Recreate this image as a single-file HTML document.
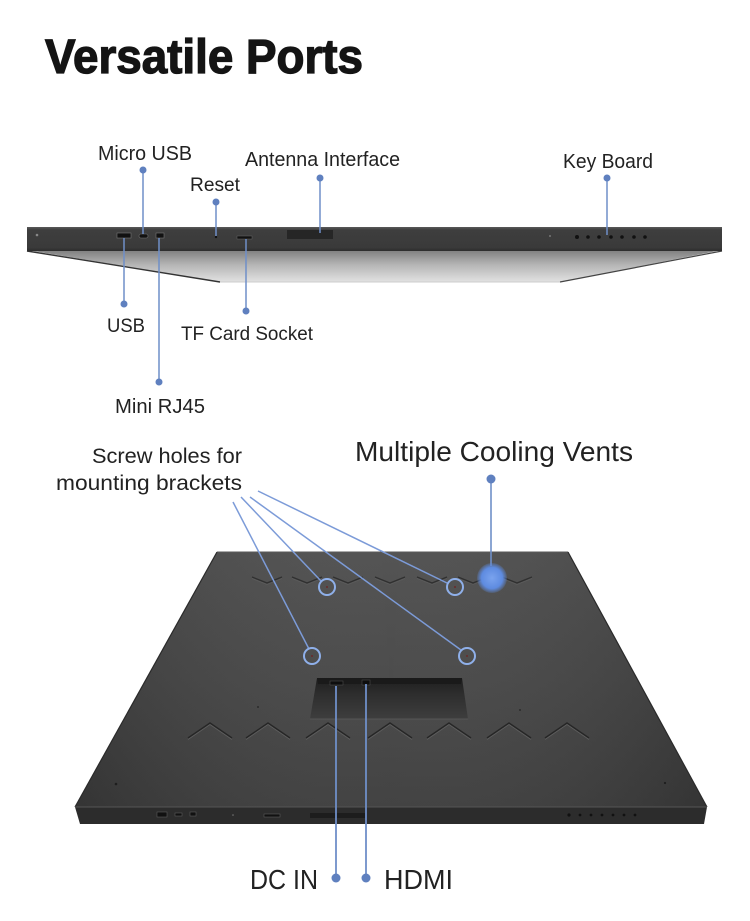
<!DOCTYPE html>
<html><head><meta charset="utf-8"><style>
html,body{margin:0;padding:0;background:#fff;}
svg{display:block;}
text{font-family:"Liberation Sans",Arial,sans-serif;fill:#222;}
</style></head><body>
<svg width="750" height="921" viewBox="0 0 750 921" xmlns="http://www.w3.org/2000/svg">
<defs>
<linearGradient id="under" x1="0" y1="0" x2="0" y2="1">
<stop offset="0" stop-color="#7e7e7e"/><stop offset="0.45" stop-color="#b4b4b4"/><stop offset="1" stop-color="#e2e2e2"/>
</linearGradient>
<linearGradient id="bar" x1="0" y1="0" x2="0" y2="1">
<stop offset="0" stop-color="#5a5a5a"/><stop offset="0.12" stop-color="#3e3e3e"/><stop offset="0.85" stop-color="#3a3a3a"/><stop offset="1" stop-color="#2c2c2c"/>
</linearGradient>
<linearGradient id="face" x1="0" y1="0" x2="0" y2="1">
<stop offset="0" stop-color="#4d4d4d"/><stop offset="0.5" stop-color="#454545"/><stop offset="1" stop-color="#3b3b3b"/>
</linearGradient>
<linearGradient id="faceH" x1="0" y1="0" x2="1" y2="0">
<stop offset="0" stop-color="#000" stop-opacity="0.12"/><stop offset="0.5" stop-color="#fff" stop-opacity="0.04"/><stop offset="1" stop-color="#000" stop-opacity="0.12"/>
</linearGradient>
<linearGradient id="rec" x1="0" y1="0" x2="0" y2="1">
<stop offset="0" stop-color="#1e1e1e"/><stop offset="0.35" stop-color="#2c2c2c"/><stop offset="1" stop-color="#3e3e3e"/>
</linearGradient>
<radialGradient id="vent" cx="0.5" cy="0.5" r="0.5">
<stop offset="0" stop-color="#7aa3ee"/><stop offset="0.7" stop-color="#5e8be0"/><stop offset="1" stop-color="#5e8be0" stop-opacity="0.2"/>
</radialGradient>
</defs>

<!-- Title -->
<text x="45" y="73" font-size="48" font-weight="bold" textLength="318" lengthAdjust="spacingAndGlyphs" style="fill:#141414;stroke:#141414;stroke-width:1.3">Versatile Ports</text>

<!-- Top monitor (edge view) -->
<polygon points="27,250 722,250 560,282 220,282" fill="url(#under)"/>
<line x1="27" y1="251" x2="220" y2="282" stroke="#333" stroke-width="1.4"/>
<line x1="722" y1="251" x2="560" y2="282" stroke="#444" stroke-width="1.2"/>
<line x1="220" y1="282" x2="560" y2="282" stroke="#ccc" stroke-width="1"/>
<rect x="27" y="227" width="695" height="24" fill="url(#bar)"/>
<!-- ports on bar -->
<circle cx="37" cy="235" r="1.3" fill="#888"/>
<rect x="117" y="233" width="14" height="5" fill="#111" stroke="#777" stroke-width="0.6"/>
<rect x="139" y="234" width="9" height="4" rx="2" fill="#111" stroke="#777" stroke-width="0.6"/>
<rect x="156" y="233" width="8" height="5" fill="#111" stroke="#777" stroke-width="0.6"/>
<circle cx="216" cy="237" r="1.2" fill="#111"/>
<rect x="237" y="236" width="15" height="3" fill="#111" stroke="#666" stroke-width="0.5"/>
<rect x="287" y="230" width="46" height="9" fill="#262626"/>
<circle cx="550" cy="236" r="1" fill="#777"/>
<g fill="#111">
<circle cx="577" cy="237" r="2"/><circle cx="588" cy="237" r="1.8"/><circle cx="599" cy="237" r="1.8"/><circle cx="611" cy="237" r="1.8"/><circle cx="622" cy="237" r="1.8"/><circle cx="634" cy="237" r="1.8"/><circle cx="645" cy="237" r="1.8"/>
</g>

<!-- Top labels connectors -->
<g stroke="#6f8fc8" stroke-width="1.5">
<line x1="143" y1="170" x2="143" y2="234"/>
<line x1="216" y1="202" x2="216" y2="236"/>
<line x1="320" y1="178" x2="320" y2="233"/>
<line x1="607" y1="178" x2="607" y2="235"/>
<line x1="124" y1="238" x2="124" y2="304"/>
<line x1="159" y1="238" x2="159" y2="382"/>
<line x1="246" y1="239" x2="246" y2="311"/>
</g>
<g fill="#5f80bf">
<circle cx="143" cy="170" r="3.5"/><circle cx="216" cy="202" r="3.5"/><circle cx="320" cy="178" r="3.5"/><circle cx="607" cy="178" r="3.5"/>
<circle cx="124" cy="304" r="3.5"/><circle cx="159" cy="382" r="3.5"/><circle cx="246" cy="311" r="3.5"/>
</g>
<text x="98" y="160" font-size="20" textLength="94" lengthAdjust="spacingAndGlyphs">Micro USB</text>
<text x="190" y="191" font-size="19" textLength="50" lengthAdjust="spacingAndGlyphs">Reset</text>
<text x="245" y="166" font-size="20" textLength="155" lengthAdjust="spacingAndGlyphs">Antenna Interface</text>
<text x="563" y="168" font-size="20" textLength="90" lengthAdjust="spacingAndGlyphs">Key Board</text>
<text x="107" y="332" font-size="19" textLength="38" lengthAdjust="spacingAndGlyphs">USB</text>
<text x="181" y="340" font-size="19" textLength="132" lengthAdjust="spacingAndGlyphs">TF Card Socket</text>
<text x="115" y="413" font-size="20" textLength="90" lengthAdjust="spacingAndGlyphs">Mini RJ45</text>

<!-- Bottom section labels -->
<text x="92" y="463" font-size="21" textLength="150" lengthAdjust="spacingAndGlyphs">Screw holes for</text>
<text x="56" y="490" font-size="21" textLength="186" lengthAdjust="spacingAndGlyphs">mounting brackets</text>
<text x="355" y="461" font-size="28" textLength="278" lengthAdjust="spacingAndGlyphs">Multiple Cooling Vents</text>

<!-- Panel -->
<polygon points="217,552 568,552 707,807 75,807" fill="url(#face)"/>
<polygon points="217,552 568,552 707,807 75,807" fill="url(#faceH)"/>
<line x1="217" y1="552" x2="568" y2="552" stroke="#5a5a5a" stroke-width="1"/>
<line x1="217" y1="552" x2="75" y2="807" stroke="#2a2a2a" stroke-width="1.2"/>
<line x1="568" y1="552" x2="707" y2="807" stroke="#2a2a2a" stroke-width="1.2"/>
<polygon points="75,807 707,807 704,824 80,824" fill="#2c2c2c"/>
<line x1="75" y1="807" x2="707" y2="807" stroke="#555" stroke-width="1"/>

<!-- top V vents -->
<g fill="none" stroke-width="1.3">
<g stroke="#303030">
<polyline points="252,577 267,583 282,577"/><polyline points="292,577 307,583 322,577"/><polyline points="333,577 348,583 363,577"/><polyline points="375,577 390,583 405,577"/><polyline points="417,577 432,583 447,577"/><polyline points="458,577 473,583 488,577"/><polyline points="502,577 517,583 532,577"/>
</g>
<g stroke="#5c5c5c" stroke-width="0.8">
<polyline points="252,578.5 267,584.5 282,578.5"/><polyline points="292,578.5 307,584.5 322,578.5"/><polyline points="333,578.5 348,584.5 363,578.5"/><polyline points="375,578.5 390,584.5 405,578.5"/><polyline points="417,578.5 432,584.5 447,578.5"/><polyline points="458,578.5 473,584.5 488,578.5"/><polyline points="502,578.5 517,584.5 532,578.5"/>
</g>
</g>

<!-- bottom chevrons -->
<g fill="none">
<g stroke="#262626" stroke-width="1.4">
<polyline points="188,738 210,723 232,738"/><polyline points="246,738 268,723 290,738"/><polyline points="306,738 328,723 350,738"/><polyline points="368,738 390,723 412,738"/><polyline points="427,738 449,723 471,738"/><polyline points="487,738 509,723 531,738"/><polyline points="545,738 567,723 589,738"/>
</g>
<g stroke="#5e5e5e" stroke-width="0.8">
<polyline points="188,739.5 210,724.5 232,739.5"/><polyline points="246,739.5 268,724.5 290,739.5"/><polyline points="306,739.5 328,724.5 350,739.5"/><polyline points="368,739.5 390,724.5 412,739.5"/><polyline points="427,739.5 449,724.5 471,739.5"/><polyline points="487,739.5 509,724.5 531,739.5"/><polyline points="545,739.5 567,724.5 589,739.5"/>
</g>
</g>
<circle cx="258" cy="707" r="0.9" fill="#222"/>
<circle cx="520" cy="710" r="0.9" fill="#222"/>
<circle cx="116" cy="784" r="1.3" fill="#1e1e1e"/>
<circle cx="665" cy="783" r="1.1" fill="#1e1e1e"/>

<!-- recess -->
<polygon points="317,678 462,678 468,719 310,719" fill="url(#rec)"/>
<polygon points="317,678 462,678 461,684 318,684" fill="#1a1a1a"/>
<line x1="310" y1="719" x2="468" y2="719" stroke="#555" stroke-width="1"/>
<rect x="330" y="681" width="13" height="4" fill="#0e0e0e" stroke="#555" stroke-width="0.5"/>
<rect x="362" y="680" width="8" height="5" fill="#0e0e0e" stroke="#555" stroke-width="0.5"/>

<!-- ports on bottom strip -->
<rect x="157" y="812" width="10" height="5" fill="#111" stroke="#666" stroke-width="0.5"/>
<rect x="175" y="813" width="7" height="3" fill="#111" stroke="#666" stroke-width="0.5"/>
<rect x="190" y="812" width="6" height="4" fill="#111" stroke="#666" stroke-width="0.5"/>
<circle cx="233" cy="815" r="0.8" fill="#777"/>
<rect x="264" y="814" width="16" height="3" fill="#111" stroke="#666" stroke-width="0.5"/>
<rect x="310" y="813" width="55" height="5" fill="#1d1d1d"/>
<g fill="#111">
<circle cx="569" cy="815" r="1.6"/><circle cx="580" cy="815" r="1.4"/><circle cx="591" cy="815" r="1.4"/><circle cx="602" cy="815" r="1.4"/><circle cx="613" cy="815" r="1.4"/><circle cx="624" cy="815" r="1.4"/><circle cx="635" cy="815" r="1.4"/>
</g>

<!-- cooling vent highlight -->
<line x1="491" y1="479" x2="491" y2="566" stroke="#6f8fc8" stroke-width="1.6"/>
<circle cx="491" cy="479" r="4.5" fill="#5f80bf"/>
<circle cx="492" cy="578" r="15" fill="url(#vent)"/>

<!-- screw hole connectors -->
<g stroke="#7c9bd8" stroke-width="1.5" fill="none">
<line x1="233" y1="502" x2="309" y2="649"/>
<line x1="241" y1="497" x2="321" y2="581"/>
<line x1="250" y1="497" x2="461" y2="650"/>
<line x1="258" y1="491" x2="447" y2="583"/>
<circle cx="327" cy="587" r="8" stroke="#8fb0ea" stroke-width="2"/>
<circle cx="455" cy="587" r="8" stroke="#8fb0ea" stroke-width="2"/>
<circle cx="312" cy="656" r="8" stroke="#8fb0ea" stroke-width="2"/>
<circle cx="467" cy="656" r="8" stroke="#8fb0ea" stroke-width="2"/>
</g>
<g fill="#6a2a2a">
<circle cx="327" cy="587" r="1"/><circle cx="455" cy="587" r="1"/><circle cx="312" cy="656" r="1"/><circle cx="467" cy="656" r="1"/>
</g>

<!-- DC IN / HDMI -->
<g stroke="#6f8fc8" stroke-width="1.8">
<line x1="336" y1="686" x2="336" y2="878"/>
<line x1="366" y1="684" x2="366" y2="878"/>
</g>
<circle cx="336" cy="878" r="4.5" fill="#5f80bf"/>
<circle cx="366" cy="878" r="4.5" fill="#5f80bf"/>
<text x="250" y="889" font-size="28" textLength="68" lengthAdjust="spacingAndGlyphs">DC IN</text>
<text x="384" y="889" font-size="28" textLength="69" lengthAdjust="spacingAndGlyphs">HDMI</text>
</svg>
</body></html>
